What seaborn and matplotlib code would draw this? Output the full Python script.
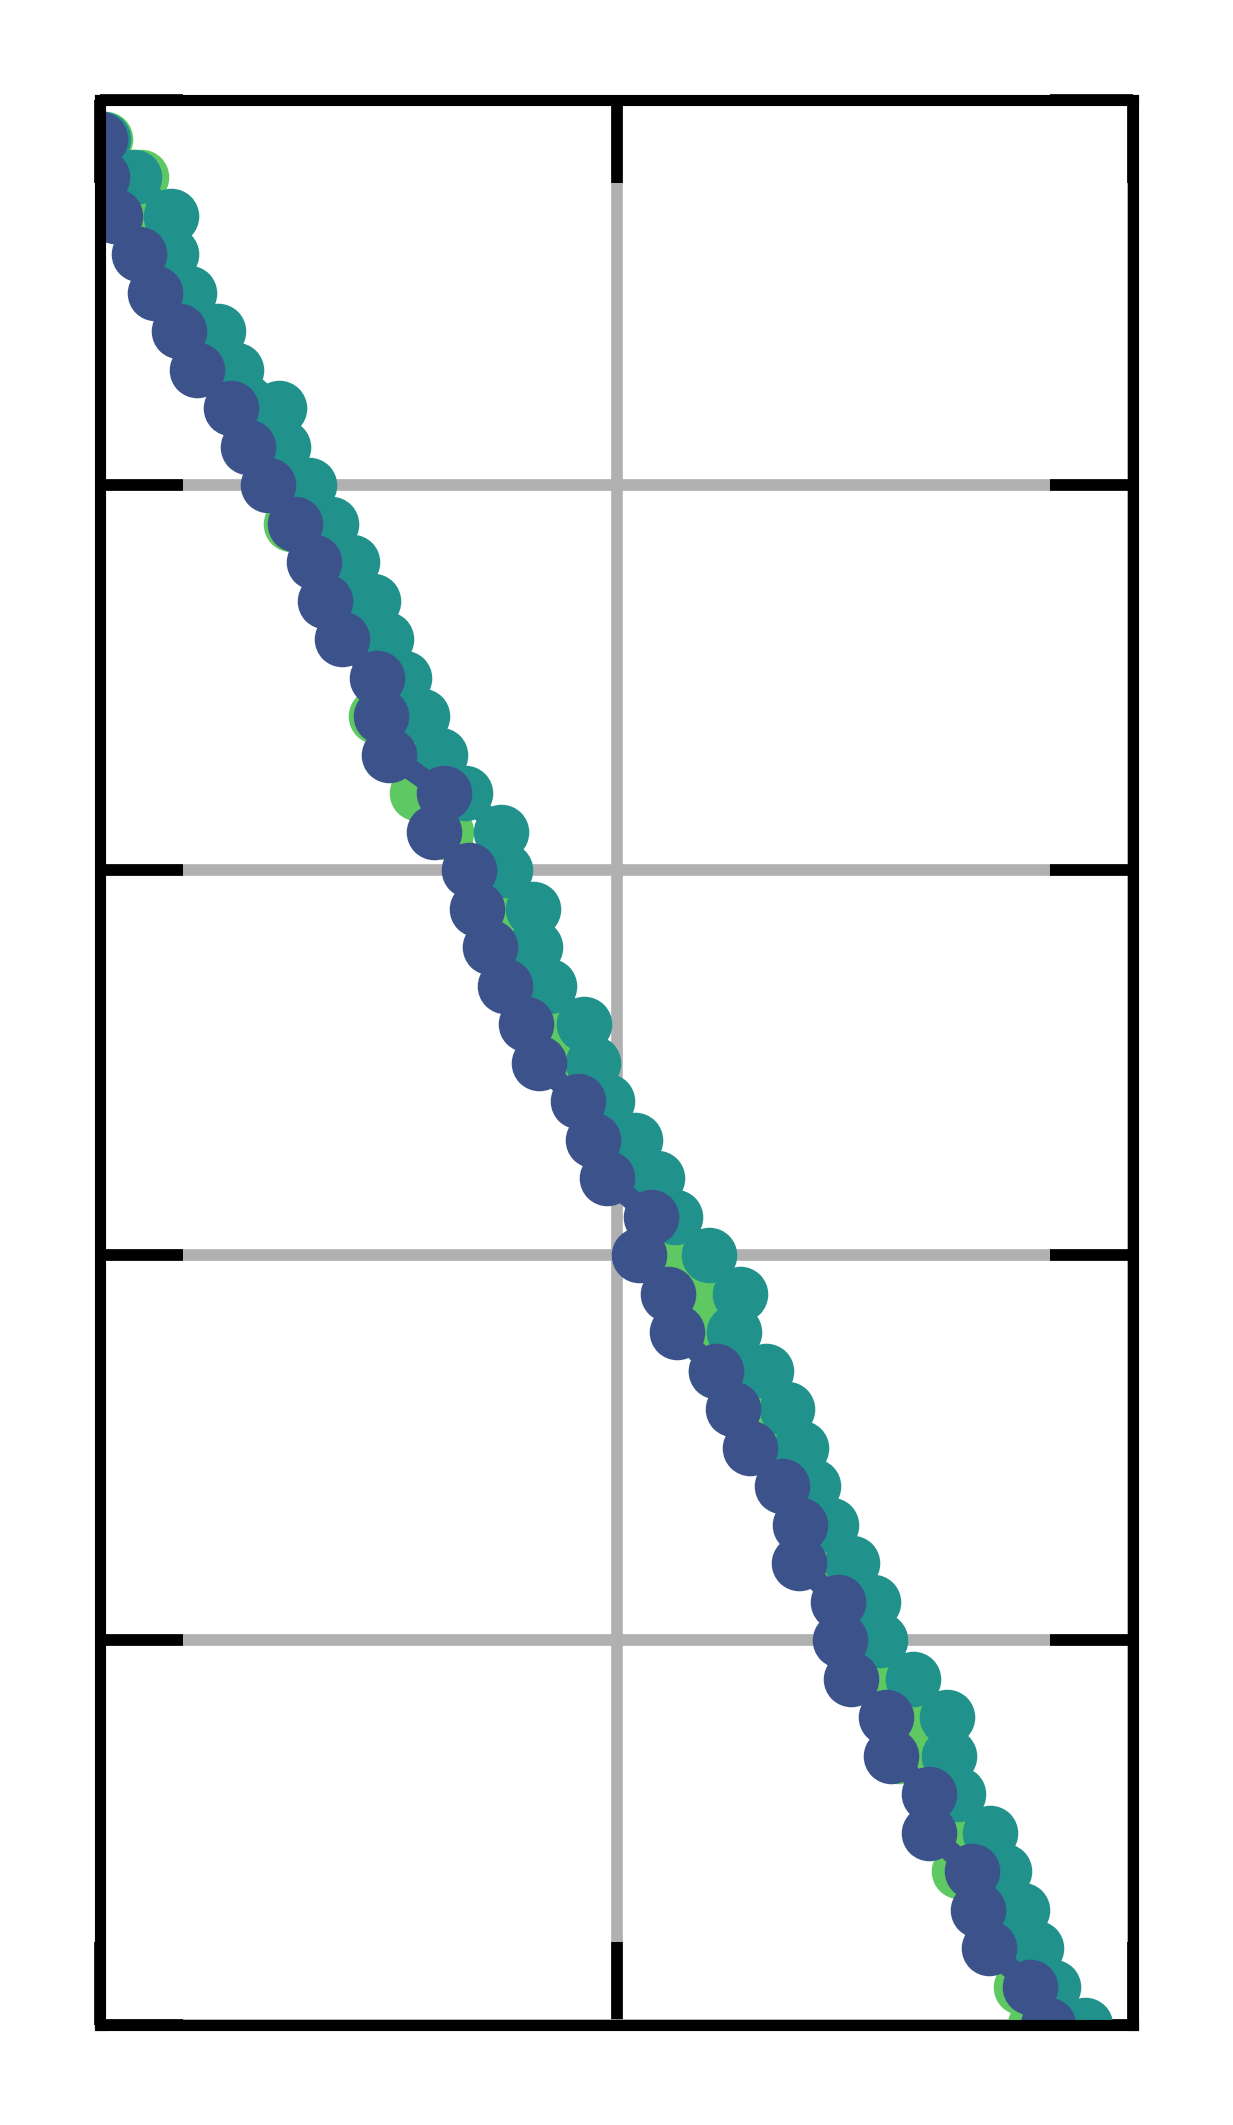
import matplotlib
matplotlib.use("Agg")
import matplotlib.pyplot as plt
import seaborn as sns
import pandas as pd

# y positions, top to bottom
y_vals = list(range(49, -1, -1))

series_a = [0.0, 0.2, 1.5, 3.8, 5.3, 7.6, 9.4, 12.7, 14.3, 16.3,
            18.9, 20.7, 21.8, 23.4, 26.8, 27.2, 28.0, 33.3, 32.3, 35.7,
            36.5, 37.8, 39.2, 41.2, 42.5, 46.3, 47.7, 49.1, 53.3, 52.2,
            55.0, 55.9, 59.6, 61.3, 62.9, 66.0, 67.8, 67.7, 71.4, 71.6,
            72.7, 76.1, 76.6, 80.3, 80.3, 84.4, 85.0, 86.1, 90.0, 91.8]

series_b = [0.3, 3.3, 6.9, 6.9, 8.6, 11.4, 13.2, 17.3, 17.7, 20.2,
            22.4, 24.4, 26.4, 27.7, 29.4, 31.2, 32.9, 35.3, 38.8, 39.2,
            41.9, 42.1, 43.5, 46.9, 47.7, 49.1, 51.8, 53.9, 55.7, 59.0,
            62.0, 61.4, 64.5, 66.5, 67.9, 69.0, 70.8, 72.8, 74.8, 75.5,
            78.7, 82.0, 82.2, 83.1, 86.2, 87.5, 89.3, 90.6, 92.3, 95.4]

series_c = [0.5, 4.0, 4.5, 5.5, 7.0, 9.5, 11.3, 15.0, 16.0, 18.3,
            18.5, 22.5, 24.0, 25.5, 28.0, 26.7, 30.5, 30.7, 33.5, 37.5,
            39.0, 40.0, 41.5, 44.0, 45.0, 47.5, 49.5, 51.5, 54.0, 56.0,
            58.0, 58.5, 59.6, 63.5, 65.0, 67.5, 69.0, 70.0, 73.0, 73.5,
            75.5, 79.0, 77.3, 82.0, 82.5, 83.2, 87.0, 88.0, 89.2, 90.5]

groups = ["a", "b", "c"]
colors = sns.color_palette("viridis", 3)

df = pd.concat([
    pd.DataFrame({"x": vals, "y": y_vals, "group": g})
    for g, vals in zip(groups, [series_a, series_b, series_c])
])

fig = plt.figure(figsize=(6.165, 10.625), dpi=200)
ax = fig.add_axes([100 / 1233, 100 / 2125, 1033 / 1233, 1925 / 2125])

sns.lineplot(data=df, x="x", y="y", hue="group", hue_order=["c", "b", "a"],
             palette=dict(zip(groups, colors)), orient="y",
             marker="o", markersize=20, markeredgewidth=0,
             linewidth=7.5, legend=False, ax=ax)

ax.set_xlim(0, 100)
ax.set_ylim(0, 50)
ax.set_xticks([0, 50, 100])
ax.set_yticks([0, 10, 20, 30, 40, 50])
ax.set_xlabel("")
ax.set_ylabel("")
ax.set_axisbelow(True)
ax.grid(True, color="#b0b0b0", linewidth=4.2)
ax.tick_params(direction="in", length=30, width=4.2, color="black",
               top=True, right=True, labelbottom=False, labelleft=False)
for sp in ax.spines.values():
    sp.set_linewidth(4)
    sp.set_color("black")
    sp.set_zorder(5)

fig.savefig("out.png", dpi=200)
